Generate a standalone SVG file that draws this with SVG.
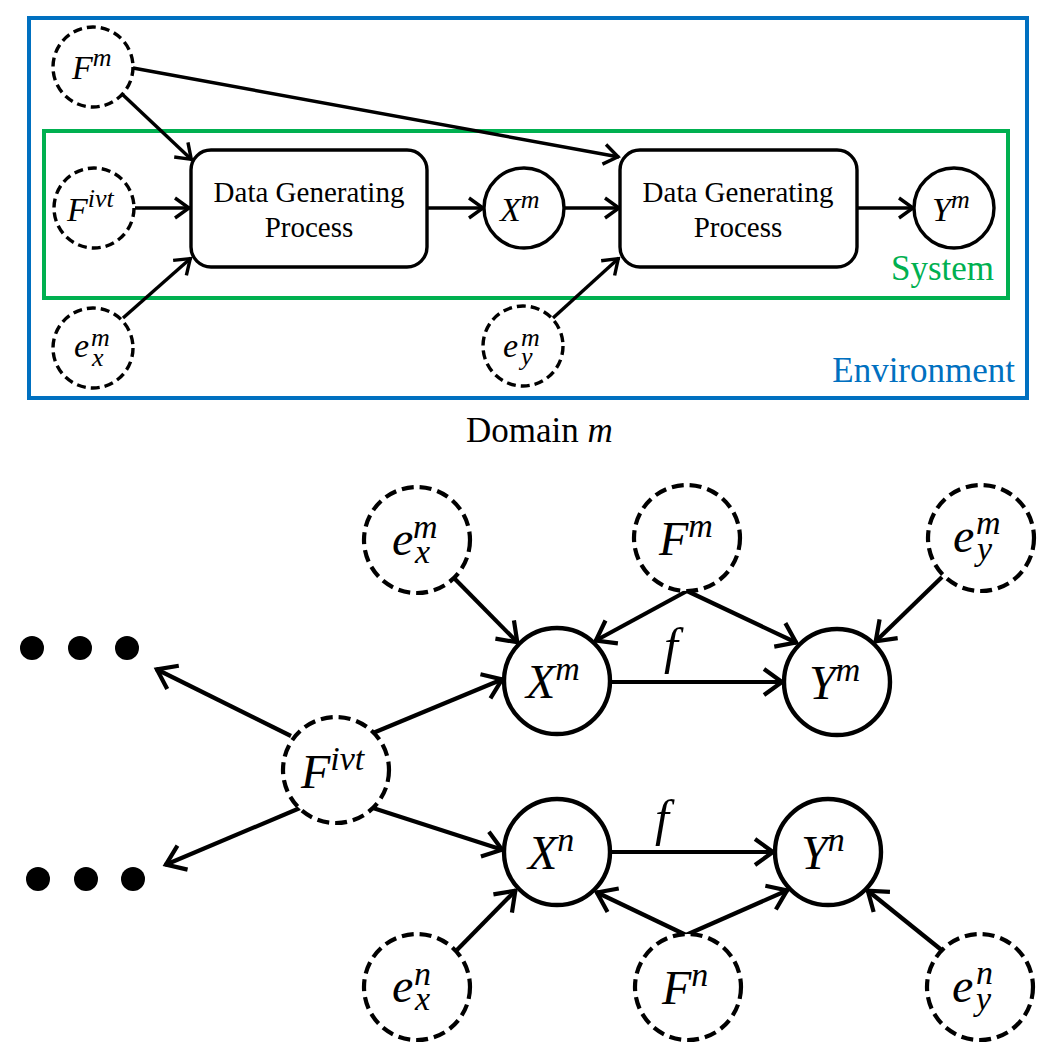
<svg xmlns="http://www.w3.org/2000/svg" width="1058" height="1058" viewBox="0 0 1058 1058" font-family="'Liberation Serif', 'DejaVu Serif', serif">
<style>
.bg{fill:#ffffff}
.dash1{fill:#fff;stroke:#000;stroke-width:3.4;stroke-dasharray:9 5}
.dash2{fill:#fff;stroke:#000;stroke-width:4.2;stroke-dasharray:12 6}
.solid1{fill:#fff;stroke:#000;stroke-width:3.4}
.solid2{fill:#fff;stroke:#000;stroke-width:4.4}
.box{fill:#fff;stroke:#000;stroke-width:3.4}
.e1{stroke:#000;stroke-width:3.4;fill:none;marker-end:url(#a1)}
.e2{stroke:#000;stroke-width:4.2;fill:none;marker-end:url(#a2)}
.math{font-style:italic;fill:#000}
.m1{font-size:34px}
.m2{font-size:48px}
.s1{font-size:26px}
.s2{font-size:34px}
.rm{fill:#000}
.dgp{font-size:29px}
.env{fill:#0070C0;font-size:35px}
.sys{fill:#00B050;font-size:35px}
</style>
<defs>
<marker id="a1" markerUnits="userSpaceOnUse" markerWidth="30" markerHeight="30" refX="21" refY="15" orient="auto" style="overflow:visible">
<path d="M6,5 L20,15 L6,25" fill="none" stroke="#000" stroke-width="3.4"/>
</marker>
<marker id="a2" markerUnits="userSpaceOnUse" markerWidth="34" markerHeight="34" refX="23" refY="16" orient="auto" style="overflow:visible">
<path d="M4,3 L22,16 L4,29" fill="none" stroke="#000" stroke-width="4.2"/>
</marker>
</defs>
<rect class="bg" x="0" y="0" width="1058" height="1058"/>

<g id="environment">
<rect x="29" y="18" width="998" height="380" fill="none" stroke="#0070C0" stroke-width="4"/>
<text class="rm env" x="1015" y="382" text-anchor="end">Environment</text>
</g>
<g id="system">
<rect x="44" y="131" width="964" height="167" fill="none" stroke="#00B050" stroke-width="4"/>
<text class="rm sys" x="994" y="280" text-anchor="end">System</text>
</g>
<text id="domain-label" class="rm" x="466" y="442" font-size="35">Domain <tspan font-style="italic">m</tspan></text>

<g id="connectors">
<line class="e1" x1="122" y1="94" x2="192" y2="160"/>
<line class="e1" x1="133" y1="68" x2="619" y2="157"/>
<line class="e1" x1="135" y1="208" x2="190" y2="208"/>
<line class="e1" x1="123" y1="318" x2="191" y2="258"/>
<line class="e1" x1="427" y1="208" x2="484" y2="208"/>
<line class="e1" x1="564" y1="208" x2="620" y2="208"/>
<line class="e1" x1="553" y1="318" x2="619" y2="258"/>
<line class="e1" x1="857" y1="208" x2="914" y2="208"/>
<line class="e2" x1="453" y1="577" x2="518" y2="643"/>
<line class="e2" x1="687" y1="591" x2="595" y2="641"/>
<line class="e2" x1="687" y1="591" x2="797" y2="643"/>
<line class="e2" x1="942" y1="577" x2="875" y2="642"/>
<line class="e2" x1="610" y1="682" x2="783" y2="682"/>
<line class="e2" x1="373" y1="733" x2="503" y2="679"/>
<line class="e2" x1="291" y1="736" x2="156" y2="669"/>
<line class="e2" x1="300" y1="808" x2="165" y2="865"/>
<line class="e2" x1="373" y1="808" x2="503" y2="850"/>
<line class="e2" x1="610" y1="852" x2="774" y2="852"/>
<line class="e2" x1="455" y1="952" x2="516" y2="890"/>
<line class="e2" x1="686" y1="935" x2="596" y2="892"/>
<line class="e2" x1="686" y1="935" x2="788" y2="890"/>
<line class="e2" x1="944" y1="952" x2="867" y2="890"/>
<text class="math" x="664" y="663" font-size="50">f</text>
<text class="math" x="655" y="835" font-size="50">f</text>
</g>

<g id="top-Fm">
<circle class="dash1" cx="93" cy="67" r="40"/>
<text class="math m1" x="72" y="79">F<tspan class="s1" dy="-13">m</tspan></text>
</g>
<g id="top-Fivt">
<circle class="dash1" cx="94" cy="208" r="40"/>
<text class="math m1" x="67" y="221">F<tspan class="s1" dy="-14">ivt</tspan></text>
</g>
<g id="top-exm">
<circle class="dash1" cx="93" cy="348" r="40"/>
<text class="math m1" x="74" y="357">e<tspan class="s1" x="91" y="346">m</tspan><tspan class="s1" x="92" y="366">x</tspan></text>
</g>
<g id="top-dgp1">
<rect class="box" x="191" y="150" width="236" height="117" rx="20" ry="20"/>
<text class="rm dgp" x="309" y="202" text-anchor="middle">Data Generating</text>
<text class="rm dgp" x="309" y="237" text-anchor="middle">Process</text>
</g>
<g id="top-Xm">
<circle class="solid1" cx="524" cy="208" r="40"/>
<text class="math m1" x="500" y="221">X<tspan class="s1" dy="-13">m</tspan></text>
</g>
<g id="top-dgp2">
<rect class="box" x="620" y="150" width="237" height="117" rx="20" ry="20"/>
<text class="rm dgp" x="738" y="202" text-anchor="middle">Data Generating</text>
<text class="rm dgp" x="738" y="237" text-anchor="middle">Process</text>
</g>
<g id="top-Ym">
<circle class="solid1" cx="954" cy="208" r="40"/>
<text class="math m1" x="932" y="221">Y<tspan class="s1" dy="-13">m</tspan></text>
</g>
<g id="top-eym">
<circle class="dash1" cx="523" cy="346" r="40"/>
<text class="math m1" x="503" y="357">e<tspan class="s1" x="521" y="346">m</tspan><tspan class="s1" x="521" y="365">y</tspan></text>
</g>

<g id="dots-top">
<circle cx="32" cy="648" r="12" fill="#000"/>
<circle cx="80" cy="648" r="12" fill="#000"/>
<circle cx="127" cy="648" r="12" fill="#000"/>
</g>
<g id="dots-bottom">
<circle cx="38" cy="879" r="12" fill="#000"/>
<circle cx="86" cy="879" r="12" fill="#000"/>
<circle cx="133" cy="879" r="12" fill="#000"/>
</g>
<g id="exm">
<circle class="dash2" cx="417" cy="540" r="53"/>
<text class="math m2" x="392" y="555">e<tspan class="s2" x="413" y="538">m</tspan><tspan class="s2" x="415" y="563">x</tspan></text>
</g>
<g id="Fm">
<circle class="dash2" cx="687" cy="538" r="53"/>
<text class="math m2" x="659" y="555">F<tspan class="s2" dy="-18">m</tspan></text>
</g>
<g id="eym">
<circle class="dash2" cx="981" cy="538" r="53"/>
<text class="math m2" x="953" y="552">e<tspan class="s2" x="976" y="534">m</tspan><tspan class="s2" x="977" y="560">y</tspan></text>
</g>
<g id="Xm">
<circle class="solid2" cx="557" cy="681" r="53"/>
<text class="math m2" x="526" y="698">X<tspan class="s2" dy="-18">m</tspan></text>
</g>
<g id="Ym">
<circle class="solid2" cx="837" cy="682" r="53"/>
<text class="math m2" x="809" y="699">Y<tspan class="s2" dy="-18">m</tspan></text>
</g>
<g id="Fivt">
<circle class="dash2" cx="336" cy="770" r="53"/>
<text class="math m2" x="301" y="788">F<tspan class="s2" dy="-18">ivt</tspan></text>
</g>
<g id="Xn">
<circle class="solid2" cx="557" cy="852" r="53"/>
<text class="math m2" x="528" y="869">X<tspan class="s2" dy="-18">n</tspan></text>
</g>
<g id="Yn">
<circle class="solid2" cx="828" cy="852" r="53"/>
<text class="math m2" x="801" y="869">Y<tspan class="s2" dy="-18">n</tspan></text>
</g>
<g id="exn">
<circle class="dash2" cx="417" cy="987" r="53"/>
<text class="math m2" x="392" y="1002">e<tspan class="s2" x="414" y="985">n</tspan><tspan class="s2" x="415" y="1010">x</tspan></text>
</g>
<g id="Fn">
<circle class="dash2" cx="688" cy="987" r="53"/>
<text class="math m2" x="662" y="1004">F<tspan class="s2" dy="-18">n</tspan></text>
</g>
<g id="eyn">
<circle class="dash2" cx="980" cy="987" r="53"/>
<text class="math m2" x="952" y="1002">e<tspan class="s2" x="976" y="984">n</tspan><tspan class="s2" x="976" y="1010">y</tspan></text>
</g>
</svg>
